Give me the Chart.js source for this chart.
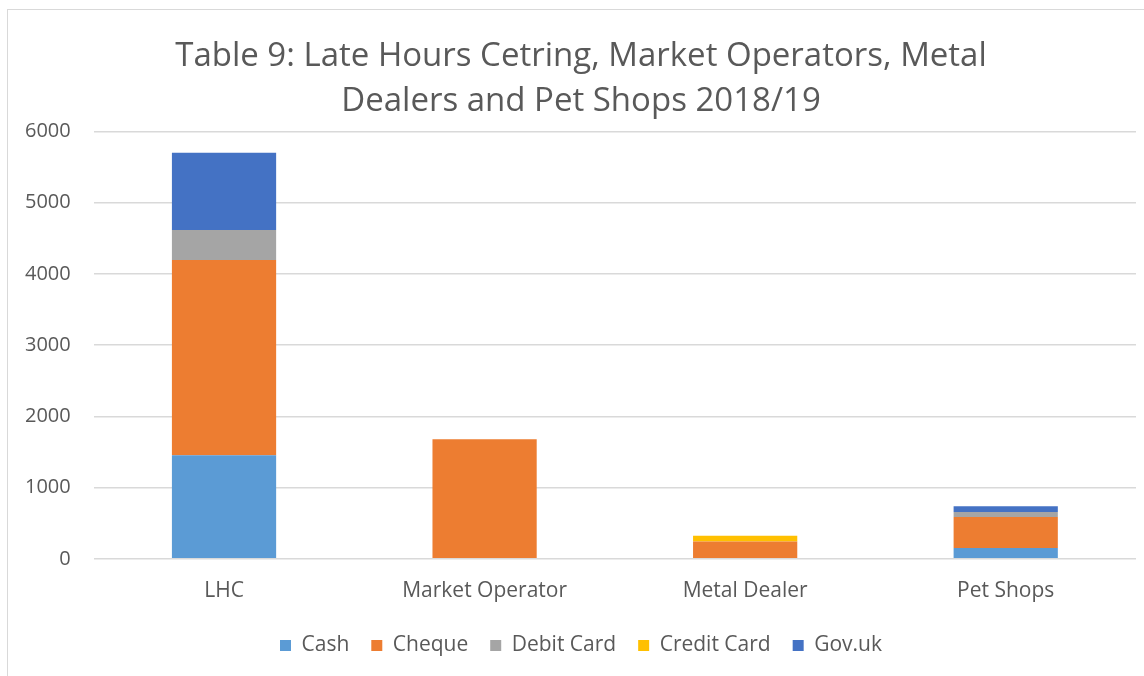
<!DOCTYPE html>
<html>
<head>
<meta charset="utf-8">
<script src="https://cdn.jsdelivr.net/npm/chart.js@4/dist/chart.umd.min.js"></script>
<style>
  html, body { margin: 0; padding: 0; background: #fff; overflow: hidden; width: 1144px; height: 676px; }
  #frame { position: absolute; left: 7px; top: 9px; width: 1137px; height: 667px; border-left: 1px solid #d9d9d9; border-top: 1px solid #d9d9d9; box-sizing: border-box; }
  #wrap { position: absolute; left: 2px; top: 10px; width: 1158px; height: 666px; }
</style>
</head>
<body>
<div id="frame"></div>
<div id="wrap"><canvas id="c"></canvas></div>
<script>
const categories = ["LHC", "Market Operator", "Metal Dealer", "Pet Shops"];
const cash       = [1455, 0, 0, 150];
const cheque     = [2740, 1678, 242, 437];
const debitCard  = [420, 0, 0, 70];
const creditCard = [0, 0, 80, 0];
const govUk      = [1085, 0, 0, 80];
const yTicks     = [0, 1000, 2000, 3000, 4000, 5000, 6000];
const titleLines = ["Table 9: Late Hours Cetring, Market Operators, Metal", "Dealers and Pet Shops 2018/19"];

const FONT = "'Open Sans', sans-serif";
const TXT = "#595959";

const mk = (label, data, color) => ({
  label, data, backgroundColor: color, borderWidth: 0,
  barPercentage: 0.4, categoryPercentage: 1.0, yAxisID: "y"
});

new Chart(document.getElementById("c"), {
  type: "bar",
  data: {
    labels: categories,
    datasets: [
      mk("Cash", cash, "#5B9BD5"),
      mk("Cheque", cheque, "#ED7D31"),
      mk("Debit Card", debitCard, "#A5A5A5"),
      mk("Credit Card", creditCard, "#FFC000"),
      mk("Gov.uk", govUk, "#4472C4")
    ]
  },
  options: {
    responsive: true,
    maintainAspectRatio: false,
    animation: false,
    layout: { padding: { left: 0, right: 0, top: 24, bottom: 10 } },
    plugins: {
      title: {
        display: true,
        text: titleLines,
        color: TXT,
        font: { family: FONT, size: 33, weight: "normal", lineHeight: 1.37 },
        padding: { top: 0, bottom: 7 }
      },
      legend: {
        position: "bottom",
        labels: {
          color: TXT,
          font: { family: FONT, size: 21 },
          boxWidth: 11, boxHeight: 11,
          padding: 22
        }
      },
      tooltip: { enabled: false }
    },
    scales: {
      x: {
        stacked: true,
        grid: { display: false, drawTicks: false },
        border: { display: false },
        ticks: { color: TXT, font: { family: FONT, size: 21 }, padding: 20 },
        afterFit: (a) => { a.height -= 11; }
      },
      y: {
        stacked: true,
        position: "left",
        min: 0, max: 6000,
        afterBuildTicks: (s) => { s.ticks = yTicks.map(v => ({ value: v })); },
        grid: { color: "#d9d9d9", lineWidth: 1.5, drawTicks: false },
        border: { display: false },
        ticks: { color: TXT, font: { family: FONT, size: 20 }, padding: 23,
                 callback: (v) => String(v) }
      },
      yPad: {
        type: "linear",
        position: "right",
        display: true,
        grid: { display: false, drawTicks: false },
        border: { display: false },
        ticks: { display: false },
        afterFit: (a) => { a.width = 24; }
      }
    }
  }
});
</script>
</body>
</html>
